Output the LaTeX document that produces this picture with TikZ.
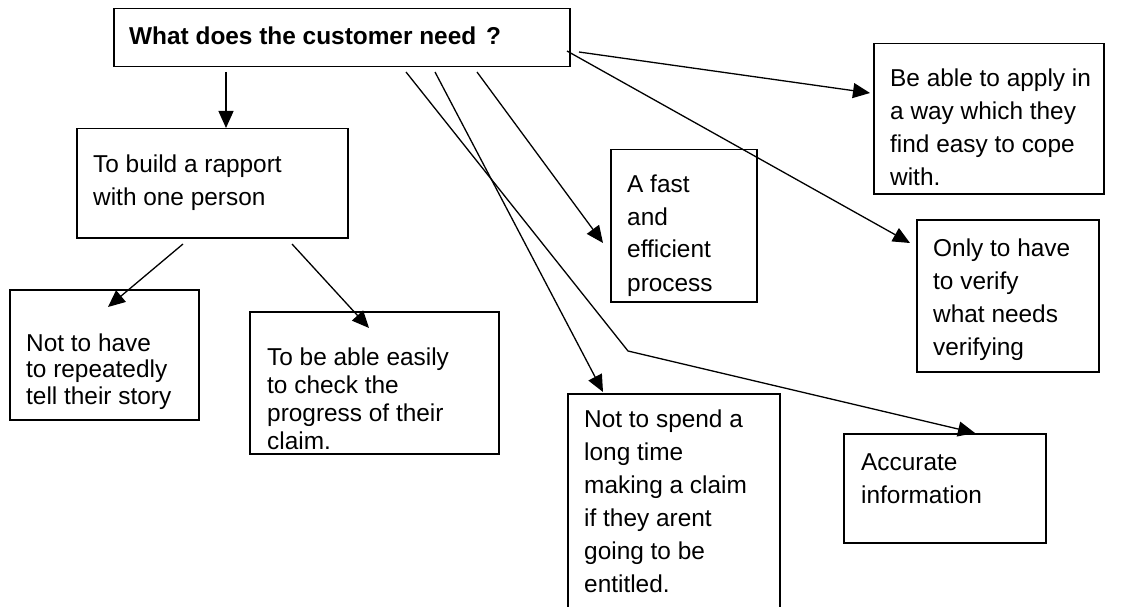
\documentclass[tikz,border=0pt]{standalone}
\usepackage{fontspec}
\setmainfont{Liberation Sans}
\usetikzlibrary{arrows.meta}

% lines of a box text, stacked with a given baseline distance
\newcommand{\stacklines}[2]{\fontsize{24.4}{#1}\selectfont\vtop{#2}}

\tikzset{
  box/.style={draw, line width=1.5pt, inner sep=0pt, anchor=north west},
  txt/.style={anchor=base west, inner sep=0pt, font=\fontsize{24.4}{33}\selectfont},
  conn/.style={line width=1.3pt, -{Triangle[length=17pt,width=15pt]}},
}

\begin{document}
\begin{tikzpicture}[x=1pt, y=-1pt]
  \useasboundingbox (0,0) rectangle (1127,607);
  \clip (0,0) rectangle (1127,607);

  % question box
  \node[box, minimum width=456pt, minimum height=58pt] (need) at (113,8) {};
  \node[txt, font=\fontsize{24.4}{33}\selectfont\bfseries] (needtxt) at (129,45) {What does the customer need\hspace{3pt} ?};

  % answer boxes
  \node[box, minimum width=271pt, minimum height=109pt] (rapport) at (76,128) {};
  \node[txt] (rapporttxt) at (93,172)
    {\stacklines{33pt}{\hbox{To build a rapport}\hbox{with one person}}};

  \node[box, minimum width=189pt, minimum height=130pt] (story) at (9,289) {};
  \node[txt] (storytxt) at (26,351)
    {\stacklines{26.5pt}{\hbox{Not to have}\hbox{to repeatedly}\hbox{tell their story}}};

  \node[box, minimum width=249pt, minimum height=142pt] (check) at (249,311) {};
  \node[txt] (checktxt) at (267,365)
    {\stacklines{28.3pt}{\hbox{To be able easily}\hbox{to check the}\hbox{progress of their}\hbox{claim.}}};

  \node[box, minimum width=146pt, minimum height=152pt] (fast) at (610,149) {};
  \node[txt] (fasttxt) at (627,192)
    {\stacklines{33pt}{\hbox{A fast}\hbox{and}\hbox{efficient}\hbox{process}}};

  \node[box, minimum width=212pt, minimum height=250pt] (spend) at (567,393) {};
  \node[txt] (spendtxt) at (584,427)
    {\stacklines{33pt}{\hbox{Not to spend a}\hbox{long time}\hbox{making a claim}\hbox{if they arent}\hbox{going to be}\hbox{entitled.}}};

  \node[box, minimum width=230pt, minimum height=150pt] (apply) at (873,43) {};
  \node[txt] (applytxt) at (890,87)
    {\stacklines{33pt}{\hbox{Be able to apply in}\hbox{a way which they}\hbox{find easy to cope}\hbox{with.}}};

  \node[box, minimum width=182pt, minimum height=152pt] (verify) at (916,219) {};
  \node[txt] (verifytxt) at (933,256)
    {\stacklines{33pt}{\hbox{Only to have}\hbox{to verify}\hbox{what needs}\hbox{verifying}}};

  \node[box, minimum width=202pt, minimum height=109pt] (accurate) at (843,433) {};
  \node[txt] (accuratetxt) at (861,470)
    {\stacklines{33pt}{\hbox{Accurate}\hbox{information}}};

  % connector ends
  \coordinate (sRapport) at (226,72);
  \coordinate (sStory) at (183,244);
  \coordinate (tStory) at (108,307);
  \coordinate (sCheck) at (292,244);
  \coordinate (tCheck) at (369,328);
  \coordinate (sFast) at (477,72);
  \coordinate (tFast) at (603,243);
  \coordinate (sSpend) at (435,72);
  \coordinate (tSpend) at (603,392);
  \coordinate (sAccurate) at (406,72);
  \coordinate (bAccurate) at (628,351);
  \coordinate (tAccurate) at (975,433);
  \coordinate (sVerify) at (567,51);
  \coordinate (tVerify) at (910,243);
  \coordinate (sApply) at (579,52);
  \coordinate (tApply) at (870,93);

  % connectors
  \draw[conn] (sRapport) -- (sRapport |- rapport.north);
  \draw[conn] (sStory) -- (tStory);
  \draw[conn] (sCheck) -- (tCheck);
  \draw[conn] (sFast) -- (tFast);
  \draw[conn] (sSpend) -- (tSpend);
  \draw[conn] (sAccurate) -- (bAccurate) -- (tAccurate);
  \draw[conn] (sVerify) -- (tVerify);
  \draw[conn] (sApply) -- (tApply);
\end{tikzpicture}
\end{document}
